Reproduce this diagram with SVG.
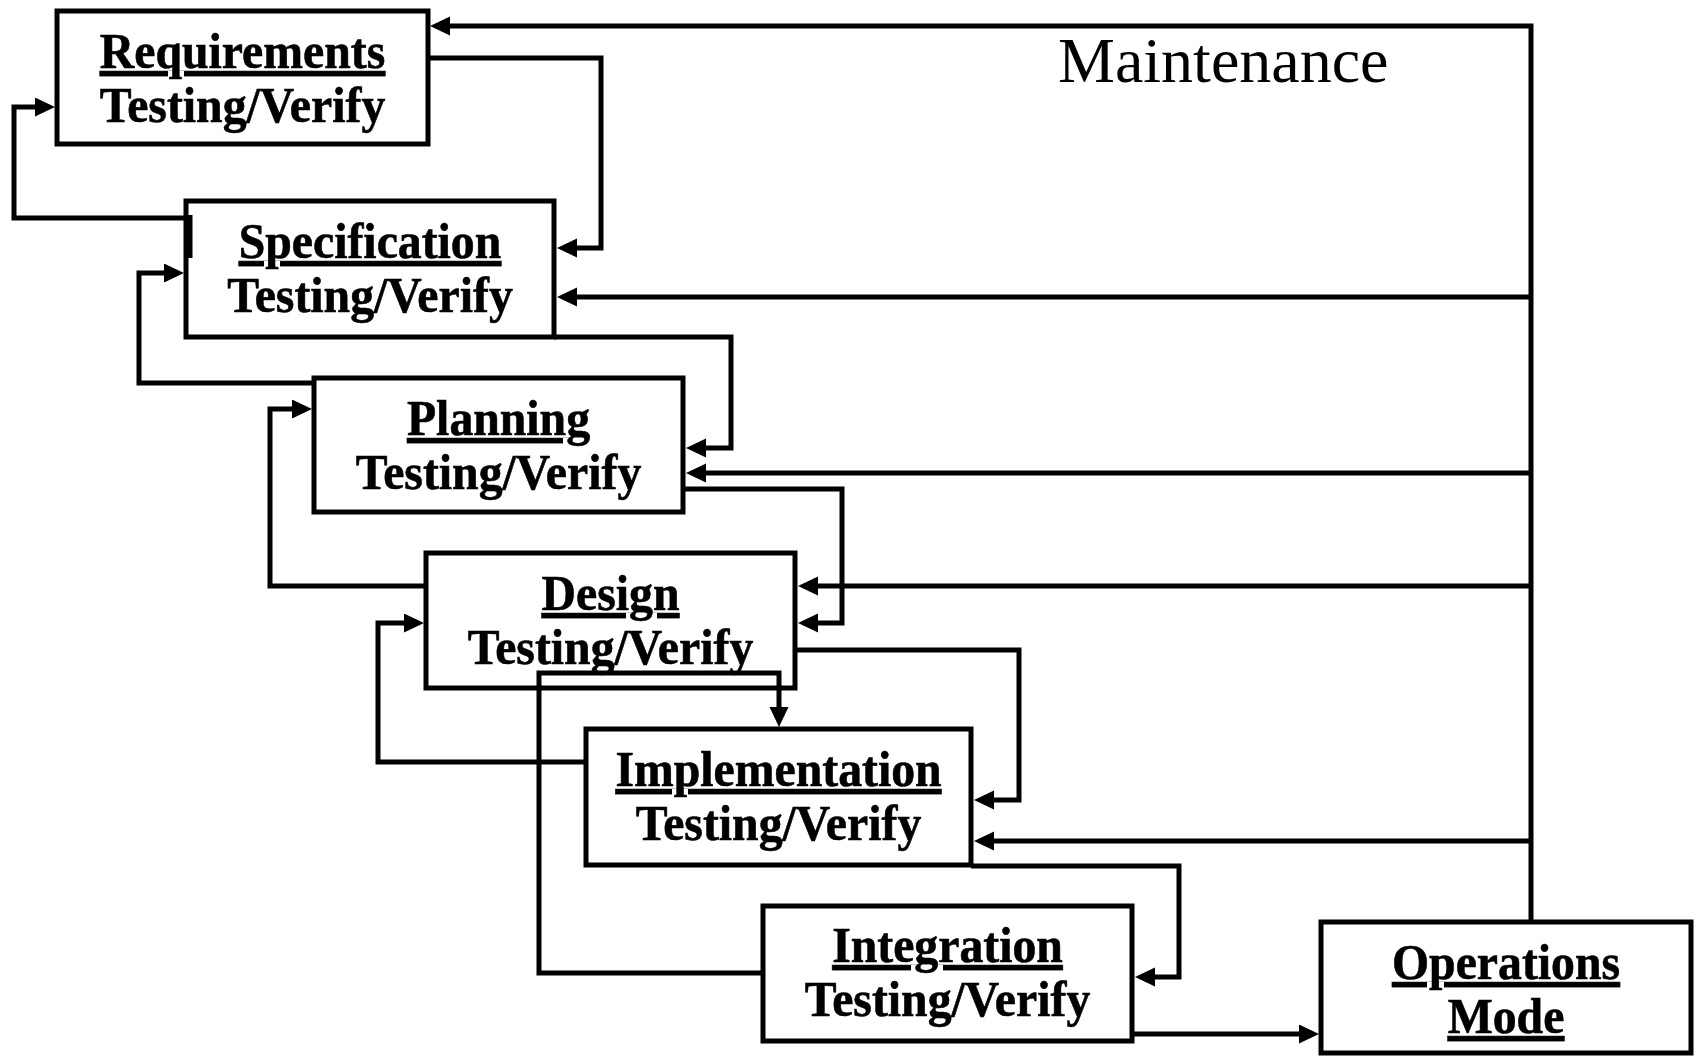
<svg xmlns="http://www.w3.org/2000/svg" width="1698" height="1056" viewBox="0 0 1698 1056">
  <defs>
    <!-- filled arrowhead; its base sits at the end of the line -->
    <marker id="arrow" markerUnits="userSpaceOnUse" markerWidth="22" markerHeight="22" refX="0" refY="9.5" orient="auto">
      <path d="M0,0 L20,9.5 L0,19 Z" fill="#000"/>
    </marker>
    <style>
      .box { fill: #fff; stroke: #000; stroke-width: 5; }
      .wire { fill: none; stroke: #000; stroke-width: 5; stroke-linejoin: miter; }
      .arr { marker-end: url(#arrow); }
      .lbl { font-family: "Liberation Serif", "Times New Roman", serif; font-weight: bold; font-size: 50px; text-anchor: middle; fill: #000; stroke: #000; stroke-width: 0.6; }
      .u { text-decoration: underline; text-decoration-skip-ink: none; }
      .title { font-family: "Liberation Serif", "Times New Roman", serif; font-size: 64px; fill: #000; }
    </style>
  </defs>
  <rect width="1698" height="1056" fill="#fff"/>

  <!-- phase boxes; labels are set slightly condensed -->
  <g id="requirements">
    <rect class="box" x="57" y="11" width="371" height="133"/>
    <text class="lbl u" transform="translate(242.5,68) scale(0.955,1)">Requirements</text>
    <text class="lbl" transform="translate(242.5,122) scale(0.955,1)">Testing/Verify</text>
  </g>
  <g id="specification">
    <rect class="box" x="186" y="201" width="368" height="136"/>
    <text class="lbl u" transform="translate(370,258) scale(0.955,1)">Specification</text>
    <text class="lbl" transform="translate(370,312) scale(0.955,1)">Testing/Verify</text>
  </g>
  <g id="planning">
    <rect class="box" x="314" y="378" width="369" height="134"/>
    <text class="lbl u" transform="translate(498.5,435) scale(0.955,1)">Planning</text>
    <text class="lbl" transform="translate(498.5,489) scale(0.955,1)">Testing/Verify</text>
  </g>
  <g id="design">
    <rect class="box" x="426" y="553" width="369" height="135"/>
    <text class="lbl u" transform="translate(610.5,610) scale(0.955,1)">Design</text>
    <text class="lbl" transform="translate(610.5,664) scale(0.955,1)">Testing/Verify</text>
  </g>
  <g id="implementation">
    <rect class="box" x="586" y="729" width="385" height="136"/>
    <text class="lbl u" transform="translate(778.5,786) scale(0.955,1)">Implementation</text>
    <text class="lbl" transform="translate(778.5,840) scale(0.955,1)">Testing/Verify</text>
  </g>
  <g id="integration">
    <rect class="box" x="763" y="906" width="369" height="135"/>
    <text class="lbl u" transform="translate(947.5,962) scale(0.955,1)">Integration</text>
    <text class="lbl" transform="translate(947.5,1016) scale(0.955,1)">Testing/Verify</text>
  </g>
  <g id="operations">
    <rect class="box" x="1321" y="922" width="370" height="131"/>
    <text class="lbl u" transform="translate(1506,979) scale(0.955,1)">Operations</text>
    <text class="lbl u" transform="translate(1506,1033) scale(0.955,1)">Mode</text>
  </g>

  <text id="maintenance" class="title" x="1058" y="82">Maintenance</text>

  <g id="connectors">
    <!-- maintenance feedback bus from operations -->
    <path class="wire arr" d="M1531,922 V26 H450"/>
    <path class="wire arr" d="M1531,297 H577"/>
    <path class="wire arr" d="M1531,473 H706"/>
    <path class="wire arr" d="M1531,586 H818"/>
    <path class="wire arr" d="M1531,841 H994"/>

    <!-- forward flow down the cascade -->
    <path class="wire arr" d="M428,58 H601 V248 H577"/>
    <path class="wire arr" d="M554,337 H731 V448 H706"/>
    <path class="wire arr" d="M683,489 H842 V623 H818"/>
    <path class="wire arr" d="M795,650 H1019 V800 H994"/>
    <path class="wire arr" d="M971,866 H1179 V977 H1155"/>
    <path class="wire arr" d="M1132,1034 H1299"/>

    <!-- return paths to the previous phase -->
    <path class="wire arr" d="M186,218 H14 V107 H35"/>
    <line class="wire" x1="190" y1="215" x2="190" y2="258"/>
    <path class="wire arr" d="M314,383 H139 V273 H164"/>
    <path class="wire arr" d="M426,586 H270 V409 H292"/>
    <path class="wire arr" d="M586,762 H378 V623 H404"/>
    <path class="wire arr" d="M763,973 H539 V673 H779 V707"/>
  </g>
</svg>
